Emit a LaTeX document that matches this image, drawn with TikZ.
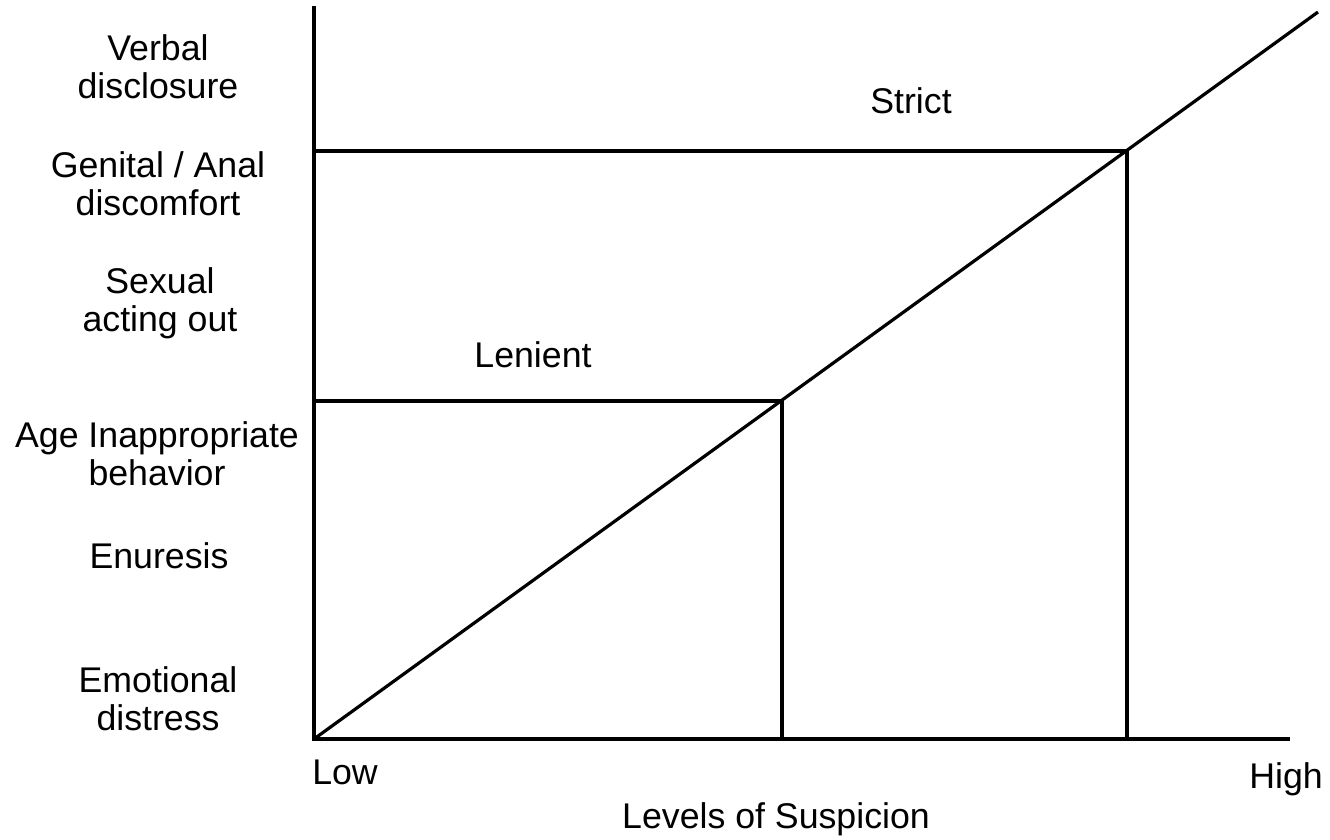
\documentclass[tikz,border=0pt]{standalone}
\usepackage{fontspec}
\setmainfont{Liberation Sans}
\begin{document}
\begin{tikzpicture}[x=1pt,y=-1pt,
  axisline/.style={line width=3.2pt,black,line cap=rect},
  lbl/.style={inner sep=0pt,outer sep=0pt,align=center,font=\fontsize{35.7}{38}\selectfont,text=black}]
\useasboundingbox (0,0) rectangle (1330,839);
\coordinate (O) at (314,739);
\coordinate (T) at (314,8);
\coordinate (E) at (1288,739);
\coordinate (D) at (1318,12);
\coordinate (L) at (782,401);
\coordinate (S) at (1127,151);
% lines
\draw[axisline] (T) -- (O) -- (E);
\draw[axisline,line cap=butt] (O) -- (D);
\draw[axisline,line cap=butt] (O |- L) -- (L) -- (L |- O);
\draw[axisline,line cap=butt] (O |- S) -- (S) -- (S |- O);
% y labels
\node[lbl,anchor=north] (verbal) at (158,35) {Verbal\\disclosure};
\node[lbl,anchor=north] (genital) at (158,152) {Genital / Anal\\discomfort};
\node[lbl,anchor=north] (sexual) at (160,268) {Sexual\\acting out};
\node[lbl,anchor=north] (age) at (157,422) {Age Inappropriate\\behavior};
\node[lbl,anchor=north] (enuresis) at (159,543) {Enuresis};
\node[lbl,anchor=north] (emotional) at (158,667) {Emotional\\distress};
% region labels
\node[lbl,anchor=north] (lenient) at (533,342) {Lenient};
\node[lbl,anchor=north] (strict) at (911,88) {Strict};
% x labels
\node[lbl,anchor=north] (low) at (345,760) {Low};
\node[lbl,anchor=north] (high) at (1286,763) {High};
\node[lbl,anchor=north] (levels) at (776,803) {Levels of Suspicion};
\end{tikzpicture}
\end{document}
